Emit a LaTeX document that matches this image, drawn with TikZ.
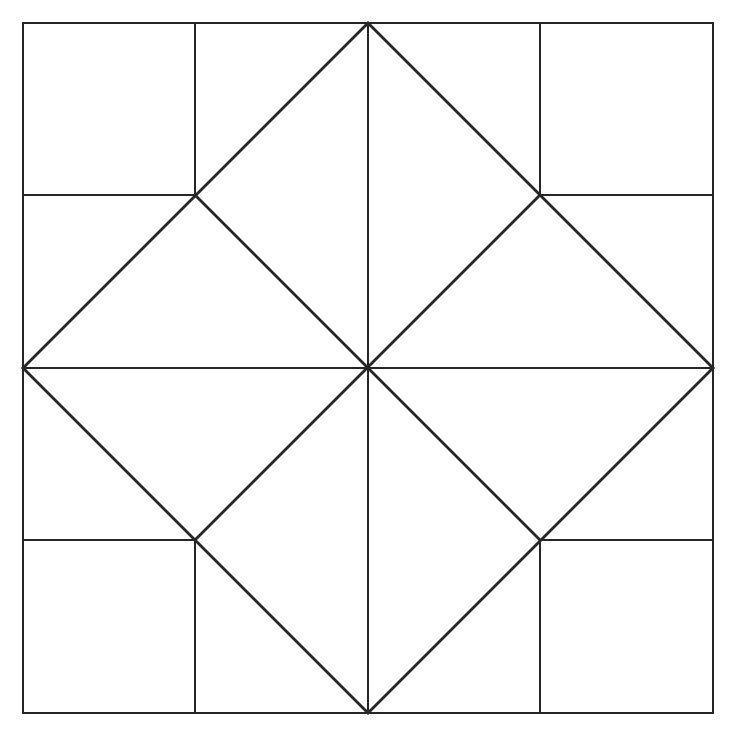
\documentclass[tikz,border=0pt]{standalone}
\begin{document}
\begin{tikzpicture}[x=1pt,y=-1pt,line width=2.6pt,line cap=rect,
  ln/.style={draw=black!85}]
\useasboundingbox[fill=white] (0,0) rectangle (736,736);
% outer square
\draw[ln] (23,23) rectangle (713,713);
% centre lines
\draw[ln] (368,23) -- (368,713);
\draw[ln] (23,368) -- (713,368);
% outer diamond
\draw[ln] (368,23) -- (713,368) -- (368,713) -- (23,368) -- cycle;
% inner diagonals
\draw[ln] (195,195) -- (540,540);
\draw[ln] (540,195) -- (195,540);
% corner squares
\draw[ln] (195,23) -- (195,195) -- (23,195);
\draw[ln] (540,23) -- (540,195) -- (713,195);
\draw[ln] (23,540) -- (195,540) -- (195,713);
\draw[ln] (713,540) -- (540,540) -- (540,713);
\end{tikzpicture}
\end{document}
